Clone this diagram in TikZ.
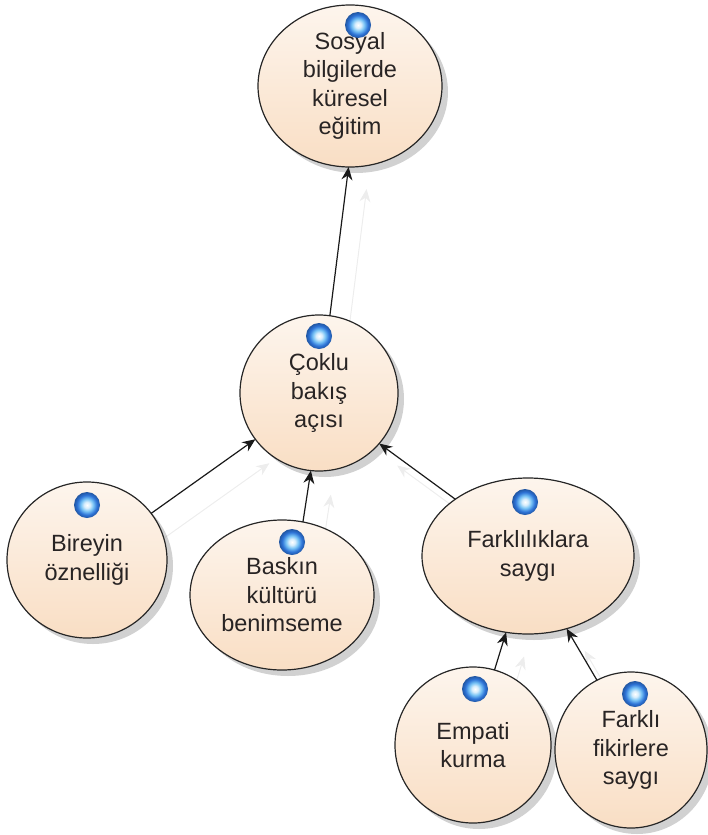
\documentclass[tikz,border=0pt]{standalone}
\usepackage{fontspec}
\setmainfont{Liberation Sans}
\usetikzlibrary{arrows.meta,shapes.geometric,shadows}
\definecolor{nodetop}{RGB}{253,245,237}
\definecolor{nodebottom}{RGB}{249,222,196}
\definecolor{bulbrim}{RGB}{45,115,215}
\definecolor{bulbmid}{RGB}{120,195,245}
\definecolor{textgray}{RGB}{40,36,36}
\pgfdeclareradialshading{bulbshade}{\pgfpoint{0bp}{0bp}}{%
  color(0bp)=(white); color(6bp)=(white!70!bulbmid); color(12bp)=(bulbmid);
  color(19bp)=(bulbrim); color(25bp)=(bulbrim!75!black); color(50bp)=(bulbrim!75!black)}
\pgfdeclarelayer{background}
\pgfsetlayers{background,main}

\begin{document}
\begin{tikzpicture}[x=1pt,y=-1pt,
    topic/.style={ellipse,draw=black!85,line width=1.2pt,top color=nodetop,bottom color=nodebottom,
      drop shadow={shadow xshift=6pt,shadow yshift=-6pt,opacity=0.18,fill=black},
      inner sep=0pt,outer sep=0pt,align=center,text=textgray,
      font=\fontsize{23.5}{28.5}\selectfont},
    bulb/.style={circle,minimum size=26pt,inner sep=0pt,shading=bulbshade},
    link/.style={-{Stealth[length=13pt,width=11pt]},line width=1.2pt,black!90},
    ghost/.style={-{Stealth[length=13pt,width=11pt]},line width=1pt,black!7}]
        \useasboundingbox (0,0) rectangle (707,835);

        % Draw the topics
        \node[topic,minimum width=184pt,minimum height=162pt] (sosyal) at (350,86) {Sosyal\\bilgilerde\\küresel\\eğitim};
        \node[topic,minimum width=158pt,minimum height=156pt] (coklu) at (319,393) {Çoklu\\bakış\\açısı};
        \node[topic,minimum width=160pt,minimum height=156pt] (bireyin) at (87,560) {Bireyin\\öznelliği};
        \node[topic,minimum width=184pt,minimum height=150pt] (baskin) at (282,595) {Baskın\\kültürü\\benimseme};
        \node[topic,minimum width=212pt,minimum height=156pt] (farklilik) at (528,556) {Farklılıklara\\saygı};
        \node[topic,minimum width=156pt,minimum height=156pt] (empati) at (473,745) {Empati\\kurma};
        \node[topic,minimum width=152pt,minimum height=156pt] (fikir) at (631,750) {Farklı\\fikirlere\\saygı};

        % Blue markers on top of the topics
        \node[bulb] (sosyalbulb) at ([shift={(8,-61)}]sosyal.center) {};
        \node[bulb] (coklubulb) at ([shift={(0,-57)}]coklu.center) {};
        \node[bulb] (bireyinbulb) at ([shift={(0,-55)}]bireyin.center) {};
        \node[bulb] (baskinbulb) at ([shift={(10,-53)}]baskin.center) {};
        \node[bulb] (farklilikbulb) at ([shift={(-3,-54)}]farklilik.center) {};
        \node[bulb] (empatibulb) at ([shift={(2,-56)}]empati.center) {};
        \node[bulb] (fikirbulb) at ([shift={(4,-56)}]fikir.center) {};

        % Links between the topics
        \draw[link] (coklu.82) -- (sosyal.-91);
        \draw[link] (bireyin.36) -- (coklu.-144);
        \draw[link] (baskin.74) -- (coklu.-96);
        \draw[link] (farklilik.142) -- (coklu.-40);
        \draw[link] (empati.74) -- (farklilik.-106);
        \draw[link] (fikir.116) -- (farklilik.-62);

        % Faint copies of the links
        \begin{pgfonlayer}{background}
        \draw[ghost] ([shift={(18,22)}]coklu.82) -- ([shift={(18,22)}]sosyal.-91);
        \draw[ghost] ([shift={(14,24)}]bireyin.36) -- ([shift={(14,24)}]coklu.-144);
        \draw[ghost] ([shift={(20,24)}]baskin.74) -- ([shift={(20,24)}]coklu.-96);
        \draw[ghost] ([shift={(18,22)}]farklilik.142) -- ([shift={(18,22)}]coklu.-40);
        \draw[ghost] ([shift={(18,24)}]empati.74) -- ([shift={(18,24)}]farklilik.-106);
        \draw[ghost] ([shift={(18,22)}]fikir.116) -- ([shift={(18,22)}]farklilik.-62);
        \end{pgfonlayer}

    \end{tikzpicture}
\end{document}
